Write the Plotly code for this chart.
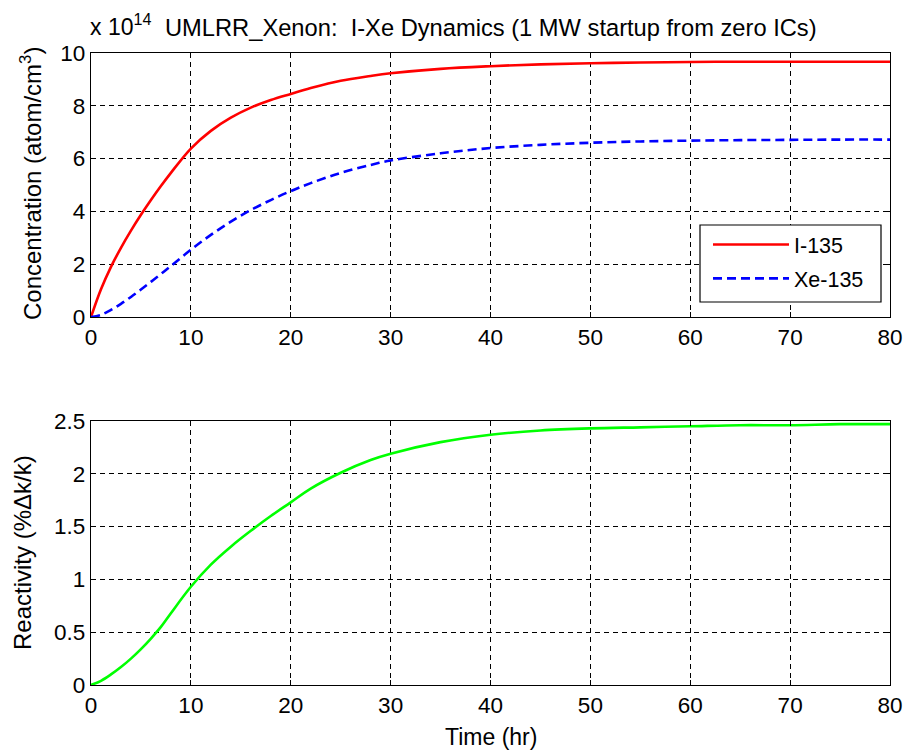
import plotly.graph_objects as go

# Time (hr)
time_hr = [0, 1, 2, 3, 4, 5, 6, 7, 8, 10, 12, 14, 16, 18, 20, 22, 25, 28, 30,
           35, 40, 45, 50, 55, 60, 65, 70, 75, 80]
# I-135 concentration (x 1e14 atom/cm^3)
iodine = [0, 1.05, 1.9, 2.62, 3.27, 3.87, 4.43, 4.96, 5.46, 6.38, 7.05, 7.55,
          7.93, 8.22, 8.45, 8.67, 8.95, 9.13, 9.23, 9.4, 9.5, 9.57, 9.61, 9.64,
          9.66, 9.67, 9.67, 9.67, 9.67]
# Xe-135 concentration (x 1e14 atom/cm^3)
xenon = [0, 0.08, 0.27, 0.5, 0.76, 1.04, 1.33, 1.63, 1.93, 2.55, 3.11, 3.61,
         4.05, 4.43, 4.77, 5.07, 5.46, 5.76, 5.93, 6.2, 6.4, 6.52, 6.6, 6.65,
         6.68, 6.7, 6.71, 6.72, 6.72]
# Reactivity (%dk/k)
reactivity = [0, 0.04, 0.1, 0.17, 0.25, 0.34, 0.44, 0.55, 0.68, 0.93, 1.14,
              1.31, 1.46, 1.6, 1.73, 1.86, 2.01, 2.13, 2.19, 2.3, 2.37, 2.41,
              2.43, 2.44, 2.45, 2.46, 2.46, 2.47, 2.47]

x_ticks = [0, 10, 20, 30, 40, 50, 60, 70, 80]
y1_ticks = [0, 2, 4, 6, 8, 10]
y2_ticks = [0, 0.5, 1, 1.5, 2, 2.5]
y2_labels = ["0", "0.5", "1", "1.5", "2", "2.5"]

FONT = "Arial, Liberation Sans, sans-serif"
W, H = 907, 750

fig = go.Figure()
fig.add_trace(go.Scatter(x=time_hr, y=iodine, mode="lines", name="I-135",
                         legendgroup="i",
                         line=dict(color="#ff0000", width=2.6, shape="spline"),
                         xaxis="x", yaxis="y"))
fig.add_trace(go.Scatter(x=time_hr, y=xenon, mode="lines", name="Xe-135",
                         legendgroup="xe",
                         line=dict(color="#0000ff", width=2.6, dash="9px,5px", shape="spline"),
                         xaxis="x", yaxis="y"))
fig.add_trace(go.Scatter(x=time_hr, y=reactivity, mode="lines", name="Reactivity",
                         line=dict(color="#00ff00", width=2.6, shape="spline"),
                         xaxis="x2", yaxis="y2", showlegend=False))

left, right = 91 / W, 890 / W
axis_common = dict(showline=True, linecolor="black", linewidth=1.3, mirror="ticks",
                   ticks="inside", ticklen=5, tickcolor="black", tickwidth=1,
                   showgrid=True, gridcolor="black", gridwidth=1, griddash="5px,4px",
                   zeroline=False, automargin=False,
                   tickfont=dict(family=FONT, size=22.5, color="black"))

fig.update_layout(
    width=W, height=H,
    margin=dict(l=0, r=0, t=0, b=0),
    paper_bgcolor="white", plot_bgcolor="white",
    font=dict(family=FONT, size=22, color="black"),
    xaxis=dict(domain=[left, right], range=[0, 80], tickvals=x_ticks,
               anchor="y", **axis_common),
    yaxis=dict(domain=[1 - 317 / H, 1 - 53 / H], range=[0, 10], tickvals=y1_ticks,
               anchor="x", **axis_common),
    xaxis2=dict(domain=[left, right], range=[0, 80], tickvals=x_ticks,
                anchor="y2", **axis_common),
    yaxis2=dict(domain=[1 - 685 / H, 1 - 421 / H], range=[0, 2.5], tickvals=y2_ticks,
                ticktext=y2_labels, anchor="x2", **axis_common),
    legend=dict(x=708 / W, y=1 - 224 / H, xanchor="left", yanchor="top",
                bgcolor="rgba(0,0,0,0)", borderwidth=0,
                font=dict(family=FONT, size=21.5, color="black"),
                itemwidth=76, traceorder="grouped", tracegroupgap=3),
    showlegend=True,
    shapes=[
        dict(type="rect", xref="paper", yref="paper",
             x0=700 / W, x1=881 / W, y0=1 - 302 / H, y1=1 - 225 / H,
             line=dict(color="black", width=1.2), fillcolor="white", layer="above"),
    ],
    annotations=[
        dict(text="x 10<sup>14</sup>", x=88 / W, y=1 - 42 / H, xref="paper", yref="paper",
             xanchor="left", yanchor="bottom", showarrow=False,
             font=dict(family=FONT, size=23)),
        dict(text="UMLRR_Xenon:  I-Xe Dynamics (1 MW startup from zero ICs)",
             x=(left + right) / 2, y=1 - 28 / H, xref="paper", yref="paper",
             xanchor="center", yanchor="middle", showarrow=False,
             font=dict(family=FONT, size=23.7)),
        dict(text="Concentration (atom/cm<sup>3</sup>)", x=31 / W, y=1 - 184 / H,
             xref="paper", yref="paper", xanchor="center", yanchor="middle",
             textangle=-90, showarrow=False, font=dict(family=FONT, size=24)),
        dict(text="Reactivity (%Δk/k)", x=22 / W, y=1 - 553 / H,
             xref="paper", yref="paper", xanchor="center", yanchor="middle",
             textangle=-90, showarrow=False, font=dict(family=FONT, size=24)),
        dict(text="Time (hr)", x=(left + right) / 2, y=1 - 737 / H,
             xref="paper", yref="paper", xanchor="center", yanchor="middle",
             showarrow=False, font=dict(family=FONT, size=23)),
    ],
)

fig.write_html("out.html", config={"displayModeBar": False},
               post_script="document.body.style.margin='0';document.body.style.overflow='hidden';")
